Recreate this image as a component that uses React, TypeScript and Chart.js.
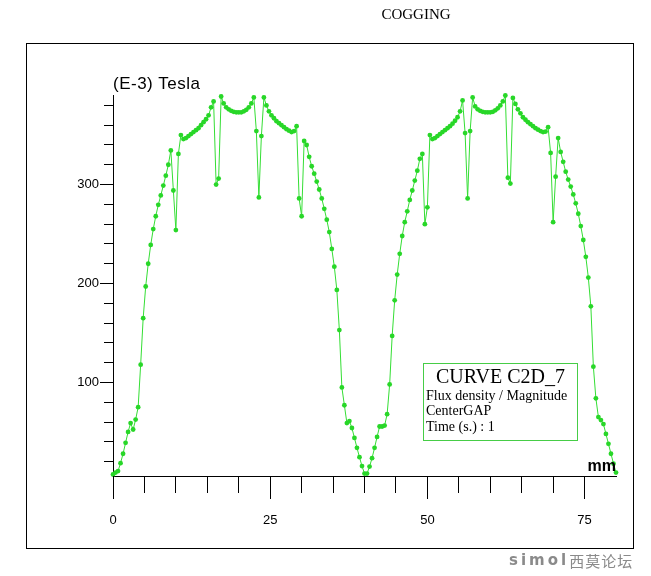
import React, { useEffect, useRef } from 'react';
import { Chart, registerables } from 'chart.js';

Chart.register(...registerables);

// Sampling positions along the gap (mm)
const positionMm = [
  0, 0.4, 0.8, 1.2, 1.6, 2, 2.4, 2.8, 3.2, 3.6,
  4, 4.4, 4.8, 5.2, 5.6, 6, 6.4, 6.8, 7.2, 7.6,
  8, 8.4, 8.8, 9.2, 9.6, 10, 10.4, 10.8, 11.2, 11.6,
  12, 12.4, 12.8, 13.2, 13.6, 14, 14.4, 14.8, 15.2, 15.6,
  16, 16.4, 16.8, 17.2, 17.6, 18, 18.4, 18.8, 19.2, 19.6,
  20, 20.4, 20.8, 21.2, 21.6, 22, 22.4, 22.8, 23.2, 23.6,
  24, 24.4, 24.8, 25.2, 25.6, 26, 26.4, 26.8, 27.2, 27.6,
  28, 28.4, 28.8, 29.2, 29.6, 30, 30.4, 30.8, 31.2, 31.6,
  32, 32.4, 32.8, 33.2, 33.6, 34, 34.4, 34.8, 35.2, 35.6,
  36, 36.4, 36.8, 37.2, 37.6, 38, 38.4, 38.8, 39.2, 39.6,
  40, 40.4, 40.8, 41.2, 41.6, 42, 42.4, 42.8, 43.2, 43.6,
  44, 44.4, 44.8, 45.2, 45.6, 46, 46.4, 46.8, 47.2, 47.6,
  48, 48.4, 48.8, 49.2, 49.6, 50, 50.4, 50.8, 51.2, 51.6,
  52, 52.4, 52.8, 53.2, 53.6, 54, 54.4, 54.8, 55.2, 55.6,
  56, 56.4, 56.8, 57.2, 57.6, 58, 58.4, 58.8, 59.2, 59.6,
  60, 60.4, 60.8, 61.2, 61.6, 62, 62.4, 62.8, 63.2, 63.6,
  64, 64.4, 64.8, 65.2, 65.6, 66, 66.4, 66.8, 67.2, 67.6,
  68, 68.4, 68.8, 69.2, 69.6, 70, 70.4, 70.8, 71.2, 71.6,
  72, 72.4, 72.8, 73.2, 73.6, 74, 74.4, 74.8, 75.2, 75.6,
  76, 76.4, 76.8, 77.2, 77.6, 78, 78.4, 78.8, 79.2, 79.6,
  80,
];

// Flux density magnitude (E-3 Tesla)
const fluxDensity = [
  7, 9, 10.5, 18.5, 28, 39, 50, 59, 52.5, 62.5,
  75, 118, 165, 197, 220, 239, 255, 268, 279.5, 289,
  299, 309, 320, 334.5, 294, 254, 331, 350, 346, 347,
  349, 351, 353, 355, 357, 360, 363, 366, 370, 378,
  384, 300, 306, 389, 382, 378, 376, 374.5, 373.5, 373,
  373, 373, 374, 375.5, 378, 382, 388, 354, 287, 349,
  388, 380, 374, 370, 367, 364, 362, 360, 358, 356,
  354.5, 353, 354, 359, 286, 268, 344, 340, 328, 318.5,
  311, 303, 295, 286, 275.5, 264.5, 252, 235, 217, 193.5,
  153, 95, 77, 59, 61, 54, 44, 34, 24.5, 15.5,
  8, 8, 15, 23.5, 34, 45, 55.5, 55.5, 56.5, 68,
  98, 147, 183, 209, 230, 248, 262, 273, 284.5, 294,
  304, 314, 326, 331, 260, 277, 350, 346, 347, 349,
  351, 353, 355, 357, 359, 361.5, 364.5, 368, 374, 385,
  352, 286, 354, 388, 379, 376, 374.5, 373.5, 373, 373,
  373, 373.5, 375, 377, 380, 384, 390, 307, 301, 387.5,
  381.5, 376, 372, 368, 365.5, 363, 361, 359, 357, 355.5,
  354, 353, 353.5, 358, 332, 262, 308, 347, 333, 323,
  313, 305, 298, 290, 281, 270.5, 258, 244, 227, 206,
  177, 116, 84, 65, 62, 58, 48, 38, 28, 18,
  9,
];

const X_MIN = 0;
const X_MAX = 80;
const X_TICK_STEP = 5;
const X_LABELED_TICKS = [0, 25, 50, 75];
const Y_MIN = 5.5;
const Y_MAX = 390.5;
const Y_TICK_STEP = 20;
const Y_LABELED_TICKS = [100, 200, 300];

const CURVE_GREEN = 'rgb(52, 222, 52)';

const alignPx = (p: number) => Math.round(p - 0.5) + 0.5;

const majorTicksPlugin = {
  id: 'majorTicks',
  afterDraw(chart: any) {
    const { ctx, chartArea, scales } = chart;
    ctx.save();
    ctx.strokeStyle = '#000';
    ctx.lineWidth = 1;
    ctx.beginPath();
    for (const v of X_LABELED_TICKS) {
      const x = alignPx(scales.x.getPixelForValue(v));
      ctx.moveTo(x, chartArea.bottom);
      ctx.lineTo(x, chartArea.bottom + 23);
    }
    for (const v of Y_LABELED_TICKS) {
      const y = alignPx(scales.y.getPixelForValue(v));
      ctx.moveTo(chartArea.left - 13, y);
      ctx.lineTo(chartArea.left, y);
    }
    ctx.stroke();
    ctx.restore();
  },
};

function FluxChart() {
  const canvasRef = useRef<HTMLCanvasElement | null>(null);

  useEffect(() => {
    if (!canvasRef.current) return;
    const points = positionMm.map((x, i) => ({ x, y: fluxDensity[i] }));
    const chart = new Chart(canvasRef.current, {
      type: 'line',
      data: {
        datasets: [
          {
            label: 'CURVE C2D_7',
            data: points,
            borderColor: CURVE_GREEN,
            borderWidth: 1,
            pointRadius: 2.4,
            pointBorderWidth: 0,
            pointBackgroundColor: 'rgb(40, 215, 40)',
            pointStyle: 'circle',
            tension: 0,
            clip: false as any,
          },
        ],
      },
      plugins: [majorTicksPlugin],
      options: {
        animation: false,
        responsive: false,
        maintainAspectRatio: false,
        devicePixelRatio: 1,
        layout: { padding: { top: 95, right: 35, left: 0, bottom: 0 } },
        plugins: {
          legend: { display: false },
          title: { display: false },
          tooltip: { enabled: false },
        },
        scales: {
          x: {
            type: 'linear',
            min: X_MIN,
            max: X_MAX,
            border: { display: true, color: '#000', width: 1 },
            grid: {
              drawOnChartArea: false,
              drawTicks: true,
              tickLength: 17,
              color: '#000',
              tickColor: (c: any) =>
                c.tick && (X_LABELED_TICKS.includes(c.tick.value) || c.tick.value === X_MAX)
                  ? 'rgba(0,0,0,0)'
                  : '#000',
            },
            ticks: {
              stepSize: X_TICK_STEP,
              autoSkip: false,
              maxRotation: 0,
              padding: 20,
              color: '#000',
              font: { family: '"Liberation Sans", Arial, sans-serif', size: 13 },
              callback: (v: any) => (X_LABELED_TICKS.includes(Number(v)) ? String(v) : ''),
            },
            afterFit: (s: any) => {
              s.height = 100;
            },
          },
          y: {
            type: 'linear',
            min: Y_MIN,
            max: Y_MAX,
            border: { display: true, color: '#000', width: 1 },
            grid: {
              drawOnChartArea: false,
              drawTicks: true,
              tickLength: 9,
              color: '#000',
              tickColor: (c: any) =>
                c.tick && Y_LABELED_TICKS.includes(c.tick.value) ? 'rgba(0,0,0,0)' : '#000',
            },
            ticks: {
              stepSize: Y_TICK_STEP,
              includeBounds: false,
              autoSkip: false,
              padding: 5,
              color: '#000',
              font: { family: '"Liberation Sans", Arial, sans-serif', size: 13 },
              callback: (v: any) => (Y_LABELED_TICKS.includes(Number(v)) ? String(v) : ''),
            },
            afterFit: (s: any) => {
              s.width = 113;
            },
          },
        },
      } as any,
    });
    return () => chart.destroy();
  }, []);

  return <canvas ref={canvasRef} width={651} height={576} style={{ position: 'absolute', left: 0, top: 0 }} />;
}

export default function App() {
  const serif = '"Liberation Serif", "Times New Roman", serif';
  const sans = '"Liberation Sans", Arial, sans-serif';
  return (
    <div
      style={{
        position: 'absolute',
        left: 0,
        top: 0,
        width: 651,
        height: 576,
        background: '#fff',
        overflow: 'hidden',
      }}
    >
      <FluxChart />
      {/* outer frame */}
      <div
        style={{
          position: 'absolute',
          left: 26,
          top: 43,
          width: 608,
          height: 506,
          border: '1px solid #000',
          boxSizing: 'border-box',
          pointerEvents: 'none',
        }}
      />
      {/* title */}
      <div
        style={{
          position: 'absolute',
          left: 316,
          top: 7,
          width: 200,
          textAlign: 'center',
          fontFamily: serif,
          fontSize: 15,
          lineHeight: '15px',
          color: '#000',
          whiteSpace: 'nowrap',
        }}
      >
        COGGING
      </div>
      {/* y axis unit */}
      <div
        style={{
          position: 'absolute',
          left: 113,
          top: 75,
          fontFamily: sans,
          fontSize: 17,
          letterSpacing: 0.5,
          lineHeight: '17px',
          color: '#000',
          whiteSpace: 'nowrap',
        }}
      >
        (E-3) Tesla
      </div>
      {/* x axis unit */}
      <div
        style={{
          position: 'absolute',
          right: 651 - 616,
          top: 458,
          fontFamily: sans,
          fontSize: 16,
          fontWeight: 'bold',
          lineHeight: '16px',
          color: '#000',
          whiteSpace: 'nowrap',
        }}
      >
        mm
      </div>
      {/* curve info box */}
      <div
        style={{
          position: 'absolute',
          left: 423,
          top: 363,
          width: 155,
          height: 78,
          border: '1px solid rgb(70, 205, 70)',
          boxSizing: 'border-box',
          background: '#fff',
          fontFamily: serif,
          color: '#000',
        }}
      >
        <div
          style={{
            position: 'absolute',
            left: 0,
            top: 2,
            width: '100%',
            textAlign: 'center',
            fontSize: 20,
            lineHeight: '20px',
            whiteSpace: 'nowrap',
          }}
        >
          CURVE C2D_7
        </div>
        <div style={{ position: 'absolute', left: 2, top: 25, fontSize: 14, lineHeight: '14px', whiteSpace: 'nowrap' }}>
          Flux density / Magnitude
        </div>
        <div style={{ position: 'absolute', left: 2, top: 40, fontSize: 14, lineHeight: '14px', whiteSpace: 'nowrap' }}>
          CenterGAP
        </div>
        <div style={{ position: 'absolute', left: 2, top: 56, fontSize: 14, lineHeight: '14px', whiteSpace: 'nowrap' }}>
          Time (s.) : 1
        </div>
      </div>
      {/* watermark */}
      <div
        style={{
          position: 'absolute',
          left: 509,
          top: 551,
          color: '#8a8a8a',
          whiteSpace: 'nowrap',
          display: 'flex',
          alignItems: 'center',
          height: 18,
        }}
      >
        <span style={{ fontFamily: '"DejaVu Sans", sans-serif', fontWeight: 'bold', fontSize: 15, letterSpacing: 3 }}>
          simol
        </span>
        <span style={{ fontFamily: '"Noto Sans CJK SC", sans-serif', fontSize: 15, letterSpacing: 1, marginLeft: 0 }}>
          西莫论坛
        </span>
      </div>
    </div>
  );
}
